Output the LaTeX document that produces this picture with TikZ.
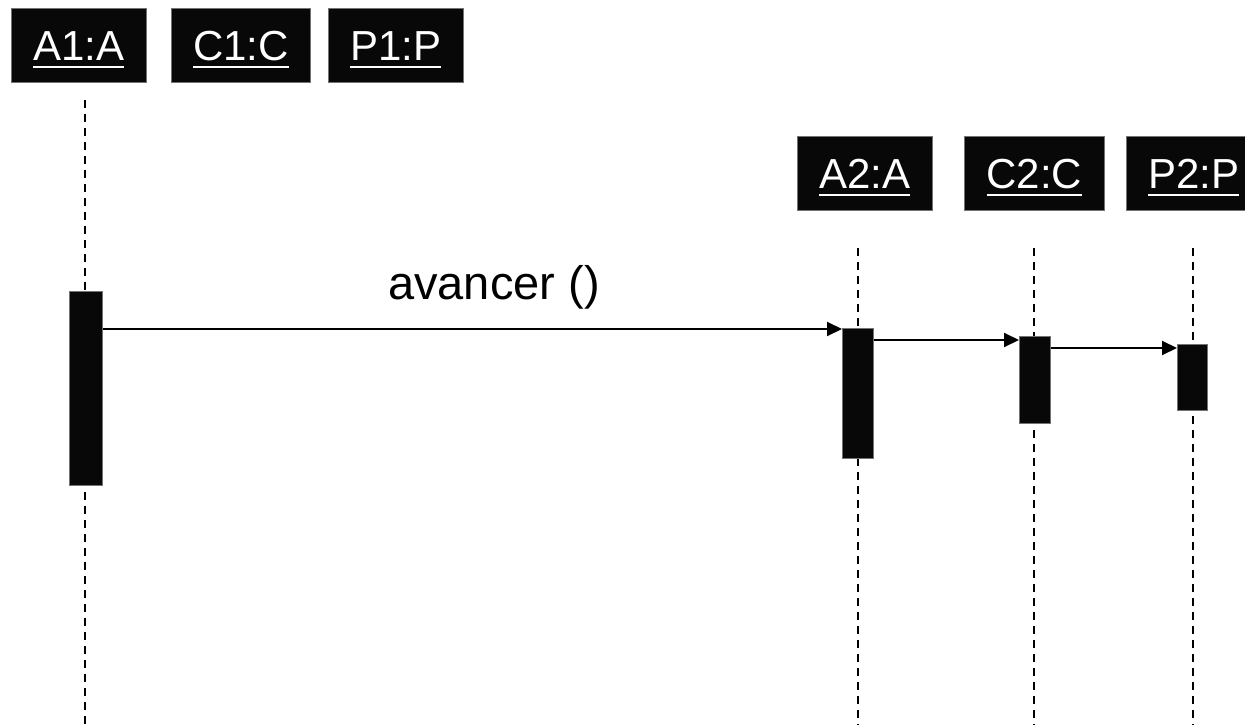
\documentclass[tikz,border=0pt]{standalone}
\usepackage{fontspec}
\setmainfont{Liberation Sans}
\newcommand{\myul}[1]{\leavevmode\setbox0=\hbox{#1}\rlap{\rule[-8pt]{\wd0}{2.6pt}}\box0}
\usetikzlibrary{arrows.meta}
\begin{document}
\begin{tikzpicture}[x=1pt,y=-1pt,
  obj/.style={fill=black!97, draw=black!55, line width=0.8pt, text=white,
    font=\fontsize{42}{46}\selectfont, inner sep=0pt, anchor=north west, minimum height=74pt,
    text height=34pt, text depth=4pt},
  act/.style={fill=black!97, draw=black!55, line width=0.8pt, inner sep=0pt, anchor=north west},
  life/.style={line width=1.8pt, dash pattern=on 8pt off 6pt},
  msg/.style={line width=2pt, -{Triangle[length=15pt,width=14pt]}}]
\useasboundingbox (0,0) rectangle (1245,725);
% object boxes
\node[obj, minimum width=135pt] (A1) at (11,8) {\myul{A1:A}};
\node[obj, minimum width=139pt] (C1) at (171,8) {\myul{C1:C}};
\node[obj, minimum width=135pt] (P1) at (328,8) {\myul{P1:P}};
\node[obj, minimum width=135pt] (A2) at (797,136) {\myul{A2:A}};
\node[obj, minimum width=140pt] (C2) at (964,136) {\myul{C2:C}};
\node[obj, minimum width=135pt] (P2) at (1126,136) {\myul{P2:P}};
% lifeline ends
\coordinate (lA1t) at (85,100);
\coordinate (lA1b) at (85,725);
\coordinate (lA2t) at (858,248);
\coordinate (lA2b) at (858,725);
\coordinate (lC2t) at (1034,248);
\coordinate (lC2b) at (1034,725);
\coordinate (lP2t) at (1193,248);
\coordinate (lP2b) at (1193,725);
\draw[life] (lA1t) -- (lA1b);
\draw[life] (lA2t) -- (lA2b);
\draw[life] (lC2t) -- (lC2b);
\draw[life] (lP2t) -- (lP2b);
% activations
\node[act, minimum width=33pt, minimum height=194pt] (aA1) at (69,291) {};
\node[act, minimum width=31pt, minimum height=130pt] (aA2) at (842,328) {};
\node[act, minimum width=31pt, minimum height=87pt] (aC2) at (1019,336) {};
\node[act, minimum width=30pt, minimum height=66pt] (aP2) at (1177,344) {};
% messages
\draw[msg] ([yshift=-1pt]aA1.east |- aA2.north west) -- ([yshift=-1pt]aA2.north west);
\draw[msg] ([yshift=-4pt]aA2.east |- aC2.north west) -- ([yshift=-4pt]aC2.north west);
\draw[msg] ([yshift=-4pt]aC2.east |- aP2.north west) -- ([yshift=-4pt]aP2.north west);
\node[font=\fontsize{47}{52}\selectfont, anchor=base, inner sep=0pt] (lbl) at (494,299) {avancer ()};
\end{tikzpicture}
\end{document}
